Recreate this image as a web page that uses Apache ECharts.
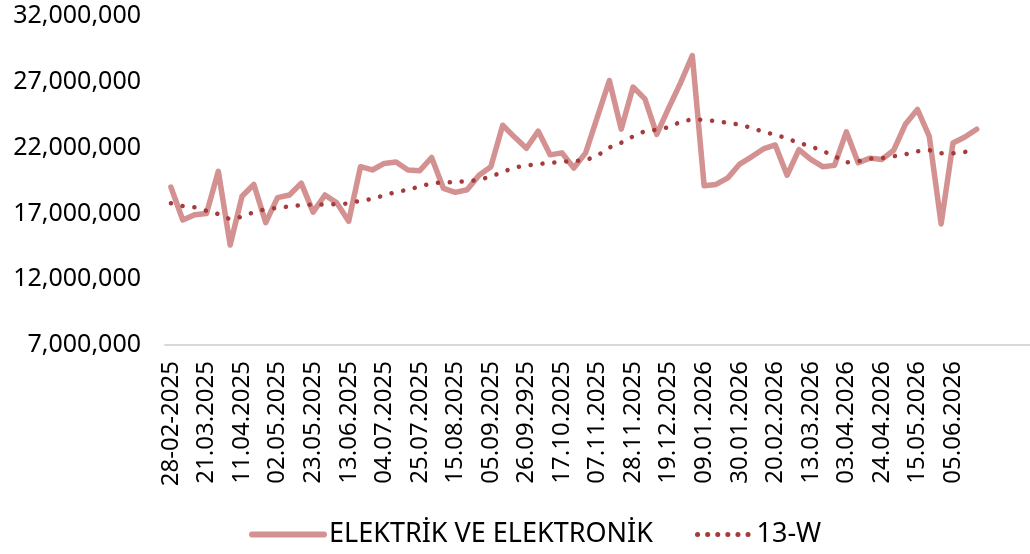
<!DOCTYPE html>
<html>
<head>
<meta charset="utf-8">
<script src="https://cdn.jsdelivr.net/npm/echarts@6/dist/echarts.min.js"></script>
<style>
  html, body { margin: 0; padding: 0; background: #fff; }
  #main { width: 1030px; height: 554px; }
</style>
</head>
<body>
<div id="main"></div>
<script>
// haftalik tarihler (her 3. etiket gosteriliyor)
var weeks = [
  '28-02-2025', '07.03.2025', '14.03.2025', '21.03.2025', '28.03.2025', '04.04.2025', '11.04.2025', '18.04.2025',
  '25.04.2025', '02.05.2025', '09.05.2025', '16.05.2025', '23.05.2025', '30.05.2025', '06.06.2025', '13.06.2025',
  '20.06.2025', '27.06.2025', '04.07.2025', '11.07.2025', '18.07.2025', '25.07.2025', '01.08.2025', '08.08.2025',
  '15.08.2025', '22.08.2025', '29.08.2025', '05.09.2025', '12.09.2025', '19.09.2025', '26.09.2925', '03.10.2025',
  '10.10.2025', '17.10.2025', '24.10.2025', '31.10.2025', '07.11.2025', '14.11.2025', '21.11.2025', '28.11.2025',
  '05.12.2025', '12.12.2025', '19.12.2025', '26.12.2025', '02.01.2026', '09.01.2026', '16.01.2026', '23.01.2026',
  '30.01.2026', '06.02.2026', '13.02.2026', '20.02.2026', '27.02.2026', '06.03.2026', '13.03.2026', '20.03.2026',
  '27.03.2026', '03.04.2026', '10.04.2026', '17.04.2026', '24.04.2026', '01.05.2026', '08.05.2026', '15.05.2026',
  '22.05.2026', '29.05.2026', '05.06.2026', '12.06.2026', '19.06.2026',
  '', '', '', ''
];

// milyon cinsinden
var elektrik = [
  19.0, 16.5, 16.9, 17.0, 20.2, 14.6, 18.3, 19.2, 16.3, 18.2, 18.4, 19.3, 17.1, 18.4, 17.8, 16.4,
  20.55, 20.3, 20.8, 20.9, 20.3, 20.25, 21.25, 18.9, 18.6, 18.8, 19.9, 20.55, 23.7, 22.8, 21.95, 23.25,
  21.45, 21.6, 20.45, 21.6, 24.35, 27.1, 23.4, 26.6, 25.7, 23.0, 25.0, 26.9, 29.0, 19.1, 19.2, 19.7,
  20.75, 21.3, 21.9, 22.2, 19.9, 21.85, 21.1, 20.55, 20.65, 23.2, 20.85, 21.2, 21.1, 21.8, 23.8, 24.9,
  22.85, 16.2, 22.35, 22.8, 23.4
];

var w13 = [
  17.77, 17.56, 17.46, 17.2, 16.95, 16.55, 16.75, 17.1, 17.32, 17.42, 17.53, 17.62, 17.68, 17.68, 17.7, 17.75,
  17.97, 18.1, 18.38, 18.62, 18.8, 19.05, 19.28, 19.36, 19.38, 19.45, 19.55, 19.8, 20.15, 20.5, 20.63, 20.75,
  20.84, 20.93, 20.97, 21.05, 21.4, 22.0, 22.37, 22.85, 23.25, 23.35, 23.55, 23.95, 24.15, 24.1, 24.0, 23.88,
  23.74, 23.5, 23.2, 22.98, 22.7, 22.35, 22.1, 21.75, 21.35, 20.88, 20.96, 21.16, 21.2, 21.34, 21.49, 21.72,
  21.8, 21.57, 21.57, 21.67, 21.9
];

var yTicks = [7000000, 12000000, 17000000, 22000000, 27000000, 32000000];

function toFull(arr) {
  return arr.map(function (v) { return Math.round(v * 1000000); });
}

var fontName = 'Noto Sans';
var mainColor = '#d39191';
var avgColor = '#a53b3b';
var myChart = echarts.init(document.getElementById('main'), null, { renderer: 'canvas' });

myChart.setOption({
  animation: false,
  textStyle: { fontFamily: fontName },
  grid: { left: 165, right: 0, top: 16, bottom: 209 },
  legend: [
    {
      top: 516,
      left: 244,
      itemWidth: 72,
      itemHeight: 14,
      itemGap: 7,
      itemStyle: { opacity: 0 },
      textStyle: { fontSize: 27, color: '#000', fontFamily: fontName },
      data: [
        { name: 'ELEKTRİK VE ELEKTRONİK', lineStyle: { width: 6, cap: 'round' } }
      ]
    },
    {
      top: 516,
      left: 690,
      itemWidth: 54,
      itemHeight: 14,
      itemGap: 7,
      itemStyle: { opacity: 0 },
      textStyle: { fontSize: 27, color: '#000', fontFamily: fontName },
      data: [
        { name: '13-W', lineStyle: { type: [0.1, 10], width: 5, cap: 'round' } }
      ]
    }
  ],
  xAxis: {
    type: 'category',
    data: weeks,
    boundaryGap: true,
    axisLine: { lineStyle: { color: '#d9d9d9', width: 2 } },
    axisTick: { show: false },
    axisLabel: {
      interval: 2,
      rotate: 90,
      margin: 16,
      fontSize: 24,
      color: '#000',
      fontFamily: fontName
    }
  },
  yAxis: {
    type: 'value',
    min: yTicks[0],
    max: yTicks[yTicks.length - 1],
    interval: yTicks[1] - yTicks[0],
    splitLine: { show: false },
    axisLine: { show: false },
    axisTick: { show: false },
    axisLabel: {
      margin: 24,
      fontSize: 25,
      color: '#000',
      fontFamily: fontName
    }
  },
  series: [
    {
      name: 'ELEKTRİK VE ELEKTRONİK',
      type: 'line',
      data: toFull(elektrik),
      showSymbol: false,
      symbol: 'none',
      itemStyle: { color: mainColor },
      lineStyle: { color: mainColor, width: 5.5, join: 'round', cap: 'round' }
    },
    {
      name: '13-W',
      type: 'line',
      data: toFull(w13),
      showSymbol: false,
      symbol: 'none',
      itemStyle: { color: avgColor },
      lineStyle: { color: avgColor, width: 4.5, type: [0.1, 11.8], cap: 'round' }
    }
  ]
});
</script>
</body>
</html>
